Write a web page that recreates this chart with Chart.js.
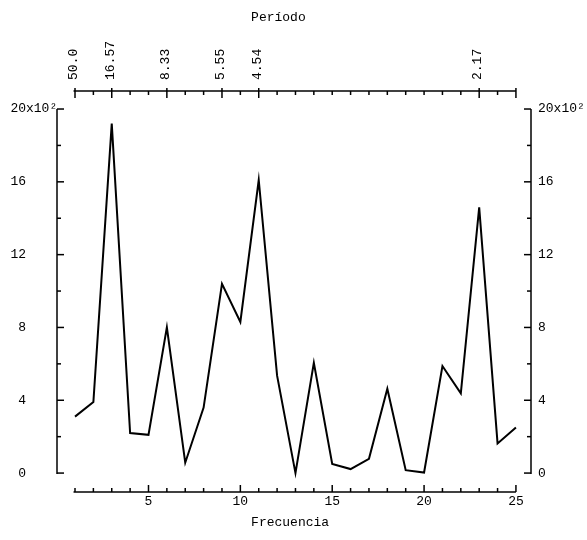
<!DOCTYPE html>
<html>
<head>
<meta charset="utf-8">
<script src="https://cdn.jsdelivr.net/npm/chart.js@4.4.1/dist/chart.umd.min.js"></script>
<style>html,body{margin:0;padding:0;background:#fff;}canvas{display:block;}</style>
</head>
<body>
<canvas id="c" width="587" height="540"></canvas>
<script>
// ---- data ----
const frequencies = [1,2,3,4,5,6,7,8,9,10,11,12,13,14,15,16,17,18,19,20,21,22,23,24,25];
const power = [3.1,3.9,19.2,2.2,2.1,8.0,0.57,3.6,10.4,8.3,16.1,5.35,0.0,6.05,0.5,0.22,0.78,4.63,0.16,0.03,5.88,4.38,14.6,1.63,2.5];
const freqTicks = [5,10,15,20,25];
const periodTickFreqs = [1,3,6,9,11,23];
const periodTickLabels = ['50.0','16.57','8.33','5.55','4.54','2.17'];
const powerTicks = [0,4,8,12,16,20];
const powerTickLabels = ['0','4','8','12','16','20'];
const powerUnitSuffix = 'x10²';

const FONT = '"Liberation Mono", "DejaVu Sans Mono", monospace';
const F13 = {family: FONT, size: 13};

// scale ranges (frame around the data)
const X_MIN = 0.02, X_MAX = 25.82;
const Y_MIN = -1.04, Y_MAX = 20.99;

const axesPlugin = {
  id: 'detachedAxes',
  afterDraw(chart) {
    const {ctx, scales} = chart;
    const xs = scales.x, x2 = scales.x2, ys = scales.y, y2 = scales.y2;
    ctx.save();
    ctx.strokeStyle = '#000';
    ctx.lineWidth = 1.5;
    ctx.lineCap = 'butt';
    const line = (a, b, c, d) => { ctx.beginPath(); ctx.moveTo(a, b); ctx.lineTo(c, d); ctx.stroke(); };

    // bottom axis (ticks pointing up)
    const by = xs.top;
    line(xs.getPixelForValue(0.92), by, xs.getPixelForValue(25), by);
    for (let v = 1; v <= 25; v++) {
      const px = xs.getPixelForValue(v);
      line(px, by, px, by - (v % 5 === 0 ? 7 : 4));
    }
    // top axis (ticks pointing down)
    const ty = x2.bottom;
    line(x2.getPixelForValue(0.92), ty, x2.getPixelForValue(25), ty);
    for (let v = 1; v <= 25; v++) {
      const px = x2.getPixelForValue(v);
      const major = periodTickFreqs.includes(v) || v === 25;
      line(px, ty - (major ? 3 : 0), px, ty + (major ? 7 : 4));
    }
    // left axis (ticks pointing right)
    const lx = ys.right;
    line(lx, ys.getPixelForValue(-0.05), lx, ys.getPixelForValue(20));
    for (let v = 0; v <= 20; v += 2) {
      const py = ys.getPixelForValue(v);
      line(lx, py, lx + (v % 4 === 0 ? 7 : 4), py);
    }
    // right axis (ticks pointing left)
    const rx = y2.left;
    line(rx, y2.getPixelForValue(-0.05), rx, y2.getPixelForValue(20));
    for (let v = 0; v <= 20; v += 2) {
      const py = y2.getPixelForValue(v);
      line(rx, py, rx - (v % 4 === 0 ? 7 : 4), py);
    }
    // multiplier after the top left label
    ctx.fillStyle = '#000';
    ctx.font = '13px ' + FONT;
    ctx.textAlign = 'left';
    ctx.textBaseline = 'middle';
    ctx.fillText(powerUnitSuffix, ys.right - 31, ys.getPixelForValue(20));
    ctx.restore();
  }
};

new Chart(document.getElementById('c'), {
  type: 'line',
  data: {
    datasets: [{
      data: frequencies.map((f, i) => ({x: f, y: power[i]})),
      borderColor: '#000',
      borderWidth: 2,
      pointRadius: 0,
      tension: 0,
      fill: false,
      xAxisID: 'x',
      yAxisID: 'y'
    }]
  },
  options: {
    responsive: false,
    animation: false,
    devicePixelRatio: 1,
    layout: {padding: 0},
    plugins: {legend: {display: false}, tooltip: {enabled: false}},
    scales: {
      x: {
        type: 'linear', position: 'bottom', min: X_MIN, max: X_MAX,
        grid: {display: false, drawTicks: false}, border: {display: false},
        afterBuildTicks: s => { s.ticks = freqTicks.map(v => ({value: v})); },
        afterFit: s => { s.height = 48; },
        ticks: {autoSkip: false, maxRotation: 0, padding: 2, color: '#000', font: F13,
                callback: v => String(v)},
        title: {display: true, text: 'Frecuencia ', color: '#000', font: F13, padding: {top: 0, bottom: 10}}
      },
      x2: {
        type: 'linear', position: 'top', min: X_MIN, max: X_MAX,
        grid: {display: false, drawTicks: false}, border: {display: false},
        afterBuildTicks: s => { s.ticks = periodTickFreqs.map(v => ({value: v})); },
        afterFit: s => { s.height = 91; },
        ticks: {autoSkip: false, minRotation: 90, maxRotation: 90, padding: 11, labelOffset: 14,
                color: '#000', font: F13, callback: (v, i) => periodTickLabels[i]},
        title: {display: true, text: 'Período    ', color: '#000', font: F13, padding: {top: 10, bottom: 0}}
      },
      y: {
        type: 'linear', position: 'left', min: Y_MIN, max: Y_MAX,
        grid: {display: false, drawTicks: false}, border: {display: false},
        afterBuildTicks: s => { s.ticks = powerTicks.map(v => ({value: v})); },
        afterFit: s => { s.width = 57; },
        ticks: {autoSkip: false, padding: 31, color: '#000', font: F13,
                callback: (v, i) => powerTickLabels[i]}
      },
      y2: {
        type: 'linear', position: 'right', min: Y_MIN, max: Y_MAX,
        grid: {display: false, drawTicks: false}, border: {display: false},
        afterBuildTicks: s => { s.ticks = powerTicks.map(v => ({value: v})); },
        afterFit: s => { s.width = 56; },
        ticks: {autoSkip: false, padding: 7, color: '#000', font: F13,
                callback: (v, i) => powerTickLabels[i] + (i === powerTicks.length - 1 ? powerUnitSuffix : '')}
      }
    }
  },
  plugins: [axesPlugin]
});
</script>
</body>
</html>
